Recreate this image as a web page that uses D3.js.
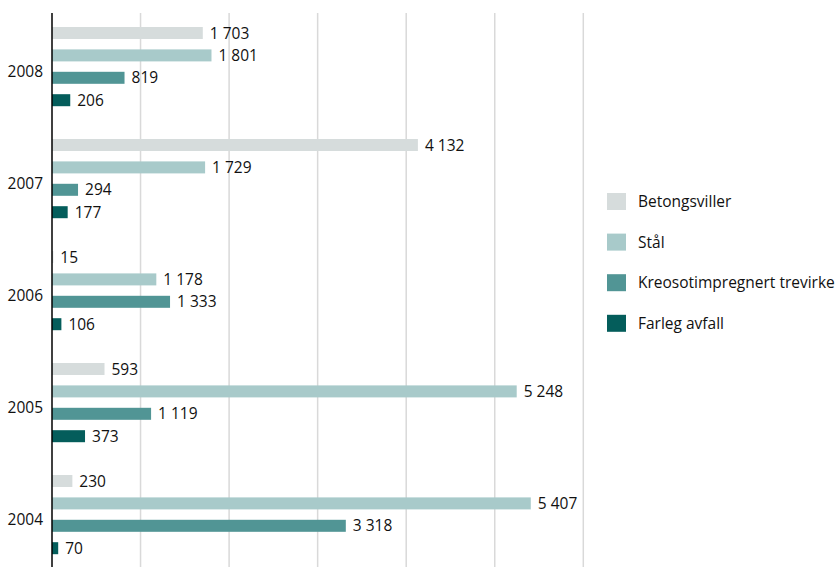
<!DOCTYPE html>
<html lang="nn">
<head>
    <meta charset="UTF-8">
    <title>Avfall frå jernbanen</title>
    <script src="https://cdn.jsdelivr.net/npm/d3@7"></script>
    <style>
        body {
            margin: 0;
            padding: 0;
            background: #ffffff;
        }

        text {
            font-family: 'Open Sans', sans-serif;
            font-size: 15.5px;
            fill: #111111;
        }

        .grid line {
            stroke: #d9d9d9;
            stroke-width: 1.5px;
        }
    </style>
</head>
<body>
    <div id="chart"></div>

    <script>
        // data
        const years = ["2008", "2007", "2006", "2005", "2004"];
        const seriesNames = ["Betongsviller", "Stål", "Kreosotimpregnert trevirke", "Farleg avfall"];
        const betongsviller = [1703, 4132, 15, 593, 230];
        const staal = [1801, 1729, 1178, 5248, 5407];
        const kreosot = [819, 294, 1333, 1119, 3318];
        const farleg = [206, 177, 106, 373, 70];
        const gridTicks = [1000, 2000, 3000, 4000, 5000, 6000];

        const colors = ["#d6dcdc", "#a8caca", "#519595", "#045d5b"];

        const rows = years.map((y, i) => ({
            year: y,
            values: [betongsviller[i], staal[i], kreosot[i], farleg[i]]
        }));

        const width = 835, height = 567;

        const svg = d3.select("#chart")
            .append("svg")
            .attr("width", width)
            .attr("height", height);

        // scales
        const x = d3.scaleLinear().domain([0, 6000]).range([52, 583.3]);

        const y0 = d3.scaleBand()
            .domain(years)
            .range([10.6, 570.6])
            .paddingInner(0.2)
            .paddingOuter(0.1);

        const y1 = d3.scaleBand()
            .domain(seriesNames)
            .range([0, y0.bandwidth()])
            .paddingInner(0.464)
            .paddingOuter(0.232);

        const color = d3.scaleOrdinal().domain(seriesNames).range(colors);

        const fmt = d3.formatLocale({ decimal: ",", thousands: " ", grouping: [3], currency: ["", ""] }).format(",d");

        // gridlines
        svg.append("g")
            .attr("class", "grid")
            .selectAll("line")
            .data(gridTicks)
            .join("line")
            .attr("x1", d => x(d))
            .attr("x2", d => x(d))
            .attr("y1", 13)
            .attr("y2", height);

        // bars
        const groups = svg.selectAll("g.year")
            .data(rows)
            .join("g")
            .attr("class", "year")
            .attr("transform", d => "translate(0," + y0(d.year) + ")");

        groups.selectAll("rect")
            .data(d => d.values.map((v, i) => ({ key: seriesNames[i], value: v })))
            .join("rect")
            .attr("x", x(0))
            .attr("y", d => y1(d.key))
            .attr("width", d => x(d.value) - x(0))
            .attr("height", y1.bandwidth())
            .attr("fill", d => color(d.key));

        groups.selectAll("text.val")
            .data(d => d.values.map((v, i) => ({ key: seriesNames[i], value: v })))
            .join("text")
            .attr("class", "val")
            .attr("x", d => x(d.value) + 7)
            .attr("y", d => y1(d.key) + y1.bandwidth() / 2)
            .attr("dy", "0.36em")
            .text(d => fmt(d.value));

        // year labels
        svg.append("g")
            .selectAll("text")
            .data(years)
            .join("text")
            .attr("x", 43)
            .attr("y", d => y0(d) + y0.bandwidth() / 2 + 5)
            .attr("dy", "0.36em")
            .attr("text-anchor", "end")
            .text(d => d);

        // axis line
        svg.append("line")
            .attr("x1", x(0))
            .attr("x2", x(0))
            .attr("y1", 13)
            .attr("y2", height)
            .attr("stroke", "#000")
            .attr("stroke-width", 1.5);

        // legend
        const legend = svg.selectAll(".legend")
            .data(seriesNames)
            .join("g")
            .attr("class", "legend")
            .attr("transform", (d, i) => "translate(607," + (193 + i * 40.6) + ")");

        legend.append("rect")
            .attr("width", 19)
            .attr("height", 17)
            .attr("fill", d => color(d));

        legend.append("text")
            .attr("x", 31)
            .attr("y", 8.5)
            .attr("dy", "0.36em")
            .text(d => d);
    </script>
</body>
</html>
